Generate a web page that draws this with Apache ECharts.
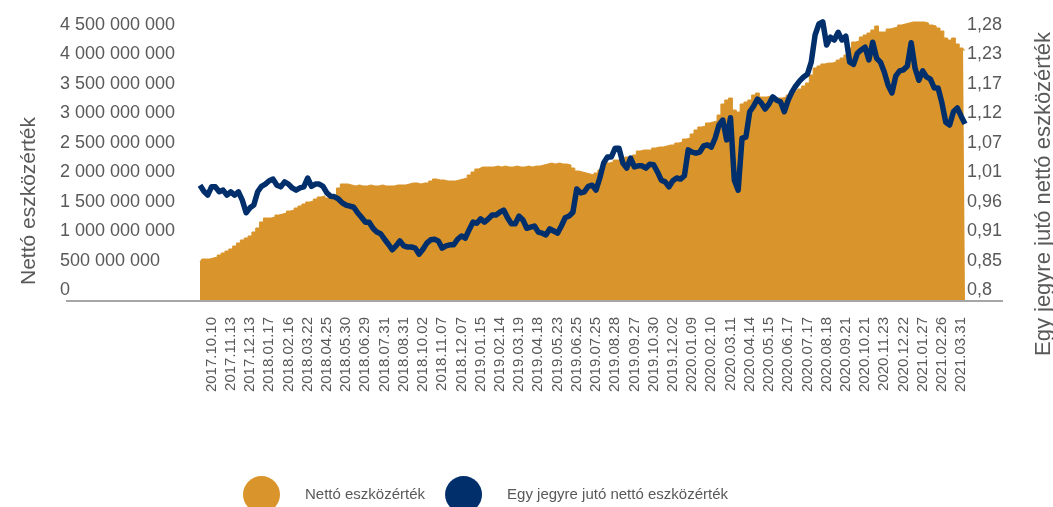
<!DOCTYPE html>
<html>
<head>
<meta charset="utf-8">
<script src="https://cdn.jsdelivr.net/npm/echarts@6/dist/echarts.min.js"></script>
<style>
  html, body { margin: 0; padding: 0; background: #fff; }
  #chart { width: 1053px; height: 507px; }
</style>
</head>
<body>
<div id="chart"></div>
<script>
// tick labels under the time axis, one every 5 samples
const dateLabels = [
  '2017.10.10', '2017.11.13', '2017.12.13', '2018.01.17', '2018.02.16', '2018.03.22',
  '2018.04.25', '2018.05.30', '2018.06.29', '2018.07.31', '2018.08.31', '2018.10.02',
  '2018.11.07', '2018.12.07', '2019.01.15', '2019.02.14', '2019.03.19', '2019.04.18',
  '2019.05.23', '2019.06.25', '2019.07.25', '2019.08.28', '2019.09.27', '2019.10.30',
  '2019.12.02', '2020.01.09', '2020.02.10', '2020.03.11', '2020.04.14', '2020.05.15',
  '2020.06.17', '2020.07.17', '2020.08.18', '2020.09.21', '2020.10.21', '2020.11.23',
  '2020.12.22', '2021.01.27', '2021.02.26', '2021.03.31'
];

const leftTicks = [
  '0', '500 000 000', '1 000 000 000', '1 500 000 000', '2 000 000 000',
  '2 500 000 000', '3 000 000 000', '3 500 000 000', '4 000 000 000', '4 500 000 000'
];
const rightTicks = ['0,8', '0,85', '0,91', '0,96', '1,01', '1,07', '1,12', '1,17', '1,23', '1,28'];

// Nettó eszközérték, millió Ft
const netAssets = [
  645, 696, 696, 713, 730, 764, 798, 832, 866, 917,
  968, 1019, 1053, 1087, 1155, 1223, 1325, 1392, 1392, 1409,
  1443, 1460, 1477, 1511, 1528, 1562, 1596, 1630, 1664, 1681,
  1715, 1749, 1766, 1732, 1749, 1766, 1902, 1970, 1970, 1953,
  1936, 1953, 1936, 1936, 1953, 1936, 1936, 1953, 1936, 1936,
  1936, 1953, 1953, 1953, 1970, 1987, 1987, 1970, 1987, 1987,
  2021, 2055, 2038, 2038, 2021, 2021, 2021, 2038, 2055, 2072,
  2123, 2174, 2225, 2258, 2258, 2258, 2258, 2275, 2258, 2275,
  2258, 2258, 2275, 2258, 2258, 2275, 2258, 2275, 2275, 2292,
  2309, 2326, 2309, 2326, 2309, 2309, 2292, 2241, 2191, 2174,
  2157, 2140, 2123, 2157, 2208, 2292, 2326, 2343, 2377, 2377,
  2394, 2428, 2428, 2462, 2530, 2547, 2547, 2547, 2581, 2598,
  2598, 2615, 2632, 2632, 2666, 2683, 2734, 2751, 2819, 2887,
  2938, 2955, 3006, 3023, 3040, 3141, 3328, 3396, 3430, 3226,
  3192, 3328, 3362, 3396, 3481, 3515, 3447, 3447, 3464, 3430,
  3430, 3430, 3447, 3481, 3515, 3549, 3583, 3634, 3685, 3821,
  3940, 3974, 4008, 4024, 4024, 4041, 4075, 4109, 4160, 4279,
  4381, 4398, 4466, 4500, 4534, 4585, 4653, 4551, 4551, 4602,
  4619, 4636, 4670, 4687, 4704, 4721, 4721, 4721, 4721, 4704,
  4670, 4653, 4619, 4568, 4449, 4415, 4449, 4347, 4279, 4245
];

// Egy jegyre jutó nettó eszközérték
const navPerShare = [
  1.008, 0.997, 0.990, 1.005, 1.005, 0.996, 0.999, 0.990, 0.996, 0.990,
  0.996, 0.981, 0.958, 0.967, 0.972, 0.996, 1.006, 1.010, 1.016, 1.019,
  1.008, 1.005, 1.014, 1.010, 1.003, 0.999, 1.003, 1.005, 1.021, 1.006,
  1.010, 1.010, 1.006, 0.994, 0.988, 0.987, 0.983, 0.976, 0.972, 0.970,
  0.968, 0.958, 0.950, 0.941, 0.941, 0.930, 0.923, 0.920, 0.910, 0.901,
  0.891, 0.898, 0.907, 0.898, 0.896, 0.896, 0.894, 0.883, 0.892, 0.903,
  0.909, 0.910, 0.907, 0.894, 0.898, 0.900, 0.900, 0.910, 0.916, 0.912,
  0.927, 0.941, 0.939, 0.947, 0.941, 0.947, 0.954, 0.954, 0.959, 0.963,
  0.949, 0.938, 0.938, 0.952, 0.945, 0.930, 0.932, 0.934, 0.923, 0.921,
  0.918, 0.929, 0.925, 0.921, 0.934, 0.949, 0.952, 0.959, 1.001, 0.994,
  0.996, 1.006, 1.008, 0.999, 1.021, 1.048, 1.059, 1.059, 1.075, 1.075,
  1.048, 1.039, 1.057, 1.041, 1.043, 1.043, 1.039, 1.046, 1.045, 1.032,
  1.017, 1.014, 1.005, 1.016, 1.021, 1.019, 1.025, 1.072, 1.068, 1.066,
  1.068, 1.079, 1.081, 1.077, 1.093, 1.117, 1.126, 1.090, 1.130, 1.017,
  0.999, 1.093, 1.095, 1.141, 1.151, 1.164, 1.157, 1.146, 1.155, 1.168,
  1.162, 1.159, 1.141, 1.162, 1.177, 1.188, 1.197, 1.204, 1.209, 1.231,
  1.280, 1.300, 1.304, 1.262, 1.276, 1.271, 1.285, 1.271, 1.278, 1.231,
  1.227, 1.247, 1.253, 1.258, 1.235, 1.267, 1.238, 1.231, 1.213, 1.189,
  1.175, 1.206, 1.215, 1.217, 1.224, 1.266, 1.220, 1.198, 1.215, 1.204,
  1.200, 1.184, 1.184, 1.157, 1.122, 1.117, 1.141, 1.148, 1.133, 1.119
];

const LEAD = 3;   // samples before the first dated tick
const STEP = 5;   // samples between dated ticks
const categories = netAssets.map((_, i) =>
  i >= LEAD && (i - LEAD) % STEP === 0 ? (dateLabels[(i - LEAD) / STEP] || '') : '');

const ORANGE = '#d9952b';
const NAVY = '#002f6c';
const GREY = '#595959';
const FONT = 'Liberation Sans, Arial, sans-serif';

const LEFT_STEP = 500;
const RIGHT_MIN = 0.8;
const RIGHT_STEP = 0.48 / 9;

const chart = echarts.init(document.getElementById('chart'), null, { renderer: 'canvas' });

chart.setOption({
  animation: false,
  backgroundColor: '#fff',
  textStyle: { fontFamily: FONT, color: GREY },
  grid: { left: 200, right: 88, top: 21, bottom: 207, containLabel: false, outerBoundsMode: 'none' },
  legend: {
    left: 243,
    top: 476,
    padding: 0,
    icon: 'circle',
    itemWidth: 37,
    itemHeight: 37,
    itemGap: 20,
    textStyle: { fontSize: 15, color: GREY, fontFamily: FONT, padding: [0, 0, 0, 20] },
    data: ['Nettó eszközérték', 'Egy jegyre jutó nettó eszközérték']
  },
  xAxis: {
    type: 'category',
    data: categories,
    boundaryGap: false,
    axisLine: { show: false },
    axisTick: { show: false },
    splitLine: { show: false },
    axisLabel: {
      interval: 0,
      rotate: 90,
      margin: 17,
      fontSize: 15,
      color: GREY,
      fontFamily: FONT
    }
  },
  yAxis: [
    {
      type: 'value',
      min: 0,
      max: 4738,
      interval: LEFT_STEP,
      splitLine: { show: false },
      axisLine: { show: false },
      axisTick: { show: false },
      axisLabel: {
        showMaxLabel: false,
        align: 'left',
        margin: 140,
        verticalAlign: 'bottom',
        padding: [0, 0, 1, 0],
        fontSize: 18,
        color: GREY,
        fontFamily: FONT,
        formatter: v => {
          const k = Math.round(v / LEFT_STEP);
          return Math.abs(v - k * LEFT_STEP) < 1 && leftTicks[k] ? leftTicks[k] : '';
        }
      }
    },
    {
      type: 'value',
      position: 'right',
      min: RIGHT_MIN,
      max: 1.3054,
      interval: RIGHT_STEP,
      splitLine: { show: false },
      axisLine: { show: false },
      axisTick: { show: false },
      axisLabel: {
        showMaxLabel: false,
        align: 'left',
        margin: 2,
        verticalAlign: 'bottom',
        padding: [0, 0, 1, 0],
        fontSize: 18,
        color: GREY,
        fontFamily: FONT,
        formatter: v => {
          const k = Math.round((v - RIGHT_MIN) / RIGHT_STEP);
          return Math.abs(v - (RIGHT_MIN + k * RIGHT_STEP)) < 1e-4 && rightTicks[k] ? rightTicks[k] : '';
        }
      }
    }
  ],
  graphic: [
    {
      type: 'line',
      shape: { x1: 66, y1: 301, x2: 1003, y2: 301 },
      style: { stroke: '#a6a6a6', lineWidth: 2 },
      z: 10
    },
    {
      type: 'text',
      x: 29, y: 201,
      rotation: Math.PI / 2,
      style: {
        text: 'Nettó eszközérték', fill: GREY, font: '21px ' + FONT,
        align: 'center', verticalAlign: 'middle'
      }
    },
    {
      type: 'text',
      x: 1044, y: 194,
      rotation: Math.PI / 2,
      style: {
        text: 'Egy jegyre jutó nettó eszközérték', fill: GREY, font: '22px ' + FONT,
        align: 'center', verticalAlign: 'middle'
      }
    }
  ],
  series: [
    {
      name: 'Nettó eszközérték',
      type: 'line',
      yAxisIndex: 0,
      data: netAssets,
      step: 'middle',
      symbol: 'none',
      color: ORANGE,
      itemStyle: { color: ORANGE },
      lineStyle: { color: ORANGE, width: 1 },
      areaStyle: { color: ORANGE, opacity: 1 },
      z: 1
    },
    {
      name: 'Egy jegyre jutó nettó eszközérték',
      type: 'line',
      yAxisIndex: 1,
      data: navPerShare,
      symbol: 'none',
      clip: false,
      color: NAVY,
      itemStyle: { color: NAVY },
      lineStyle: { color: NAVY, width: 5.5, join: 'round' },
      z: 3
    }
  ]
});

window.addEventListener('resize', () => chart.resize());
</script>
</body>
</html>
